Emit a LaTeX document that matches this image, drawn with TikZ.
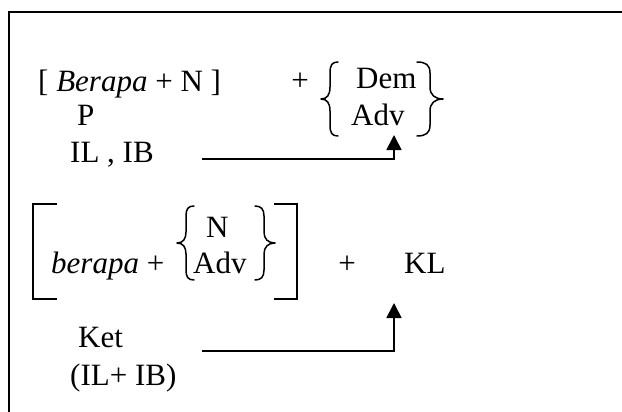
\documentclass[tikz,border=0pt]{standalone}
\usepackage{fontspec}
\setmainfont{Liberation Serif}
\usetikzlibrary{arrows.meta}
\begin{document}
\begin{tikzpicture}[x=1pt,y=-1pt,
  txt/.style={anchor=base west,inner sep=0pt,font=\fontsize{31}{37}\selectfont},
  frameline/.style={line width=2pt},
  delim/.style={line width=1.5pt,line cap=round,line join=round},
  arr/.style={line width=1.8pt,-{Triangle[length=15pt,width=15pt]}}]
\useasboundingbox (0,0) rectangle (622,412);
% frame
\draw[frameline] (9,412) -- (9,12) -- (622,12);
% first formula
\node[txt] (f1) at (38,92) {[ \textit{Berapa} + N ]};
\node[txt,anchor=center] (plus1) at (300,82) {+};
\node[txt] (dem) at (356,89) {Dem};
\node[txt] (adv1) at (351,126) {Adv};
\node[txt] (p) at (77,126) {P};
\node[txt] (ilib) at (70,163) {IL , IB};
% braces around Dem/Adv
\draw[delim] (338,62) .. controls (332,62) and (330,65) .. (330,73) -- (330,87)
  .. controls (330,95) and (327,99) .. (321,99) .. controls (327,99) and (330,103) .. (330,111)
  -- (330,125) .. controls (330,133) and (332,136) .. (338,136);
\draw[delim] (417,62) .. controls (426,62) and (430,65) .. (430,73) -- (430,87)
  .. controls (430,95) and (435,99) .. (443,99) .. controls (435,99) and (430,103) .. (430,111)
  -- (430,125) .. controls (430,133) and (426,136) .. (417,136);
% arrow 1
\coordinate (s1) at (202,159);
\coordinate (t1) at (394,135);
\draw[arr] (s1) -| (t1);
% second formula
\draw[delim,line cap=butt,line join=miter] (57,204) -- (33,204) -- (33,299) -- (57,299);
\draw[delim,line cap=butt,line join=miter] (274,204) -- (297,204) -- (297,299) -- (274,299);
\node[txt] (f2) at (51,273) {\textit{berapa} +};
\node[txt] (n2) at (206,237) {N};
\node[txt] (adv2) at (193,273) {Adv};
\draw[delim] (194,206) .. controls (188,206) and (186,209) .. (186,216) -- (186,232)
  .. controls (186,239) and (183,243) .. (177,243) .. controls (183,243) and (186,247) .. (186,254)
  -- (186,270) .. controls (186,277) and (188,280) .. (194,280);
\draw[delim] (255,206) .. controls (261,206) and (264,209) .. (264,216) -- (264,232)
  .. controls (264,239) and (268,243) .. (275,243) .. controls (268,243) and (264,247) .. (264,254)
  -- (264,270) .. controls (264,277) and (261,280) .. (255,280);
\node[txt,anchor=center] (plus2) at (347,265) {+};
\node[txt] (kl) at (404,273) {KL};
\node[txt] (ket) at (78,347) {Ket};
\node[txt] (ilib2) at (70,385) {(IL+ IB)};
% arrow 2
\coordinate (s2) at (202,351);
\coordinate (t2) at (394,303);
\draw[arr] (s2) -| (t2);
\end{tikzpicture}
\end{document}
